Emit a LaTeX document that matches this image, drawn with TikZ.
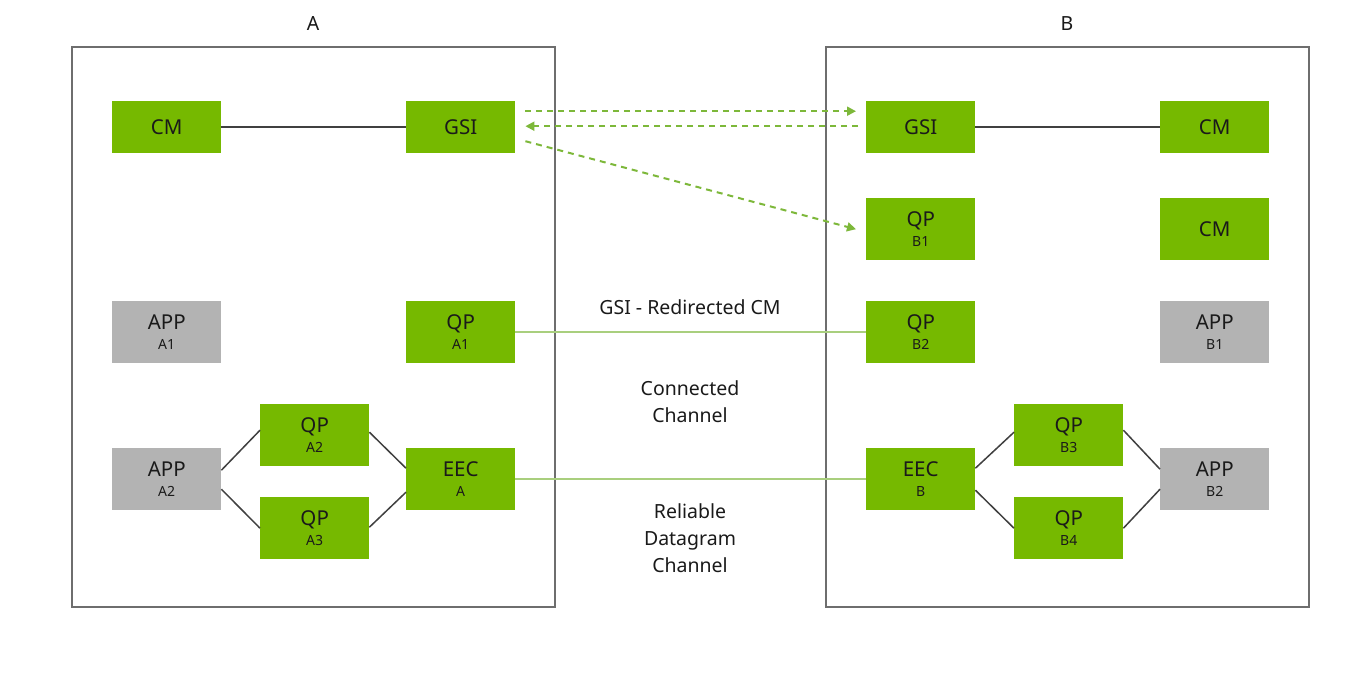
\documentclass[tikz,border=0pt]{standalone}
\usepackage{fontspec}
\setmainfont{Noto Sans}
\usetikzlibrary{arrows.meta}
\definecolor{nvgreen}{HTML}{76B900}
\definecolor{boxgray}{HTML}{B3B3B3}
\definecolor{framegray}{HTML}{6E6E6E}
\definecolor{linegreen}{HTML}{A9CF7E}
\definecolor{dashgreen}{HTML}{7DB83A}
\definecolor{txt}{HTML}{1A1A1A}
\newcommand{\mfs}{\fontsize{20.5}{22}\selectfont}
\newcommand{\sfs}{\fontsize{14}{15}\selectfont}
\newcommand{\lfs}{\fontsize{19.5}{27}\selectfont}
\tikzset{
  gbox/.style={fill=nvgreen, draw=none, minimum width=109pt, inner sep=0pt, text=txt, align=center, anchor=north west, font=\mfs},
  abox/.style={gbox, fill=boxgray},
  one/.style={minimum height=52pt},
  two/.style={minimum height=62pt},
  frame/.style={draw=framegray, line width=1.4pt},
  blk/.style={draw=black!75, line width=1.5pt},
  grn/.style={draw=linegreen, line width=1.8pt},
  dsh/.style={draw=dashgreen, line width=2pt, dash pattern=on 6pt off 5pt, -{Triangle[length=9pt,width=9pt]}},
  lbl/.style={font=\lfs, text=txt, align=center}
}
\newcommand{\tw}[2]{#1\\[-2pt]{\sfs #2}}
\begin{document}
\begin{tikzpicture}[x=1pt,y=-1pt]
\useasboundingbox[fill=white] (0,0) rectangle (1370,694);
% frames
\draw[frame] (72,47) rectangle (555,607);
\draw[frame] (826,47) rectangle (1309,607);
\node[lbl] (tA) at (313,24) {A};
\node[lbl] (tB) at (1067,24) {B};
% A side
\node[gbox,one] (cmA) at (112,101) {CM};
\node[gbox,one] (gsiA) at (406,101) {GSI};
\node[abox,two] (appA1) at (112,301) {\tw{APP}{A1}};
\node[gbox,two] (qpA1) at (406,301) {\tw{QP}{A1}};
\node[gbox,two] (qpA2) at (260,404) {\tw{QP}{A2}};
\node[abox,two] (appA2) at (112,448) {\tw{APP}{A2}};
\node[gbox,two] (eecA) at (406,448) {\tw{EEC}{A}};
\node[gbox,two] (qpA3) at (260,497) {\tw{QP}{A3}};
% B side
\node[gbox,one] (gsiB) at (866,101) {GSI};
\node[gbox,one] (cmB) at (1160,101) {CM};
\node[gbox,two] (qpB1) at (866,198) {\tw{QP}{B1}};
\node[gbox,two] (cmB2) at (1160,198) {CM};
\node[gbox,two] (qpB2) at (866,301) {\tw{QP}{B2}};
\node[abox,two] (appB1) at (1160,301) {\tw{APP}{B1}};
\node[gbox,two] (qpB3) at (1014,404) {\tw{QP}{B3}};
\node[gbox,two] (eecB) at (866,448) {\tw{EEC}{B}};
\node[abox,two] (appB2) at (1160,448) {\tw{APP}{B2}};
\node[gbox,two] (qpB4) at (1014,497) {\tw{QP}{B4}};
% black connectors
\draw[blk] (cmA.east) -- (gsiA.west);
\draw[blk] (gsiB.east) -- (cmB.west);
\draw[blk] ([yshift=9pt]appA2.east) -- ([yshift=5pt]qpA2.west);
\draw[blk] ([yshift=-10pt]appA2.east) -- ([yshift=0pt]qpA3.west);
\draw[blk] ([yshift=3pt]qpA2.east) -- ([yshift=11pt]eecA.west);
\draw[blk] ([yshift=1pt]qpA3.east) -- ([yshift=-13pt]eecA.west);
\draw[blk] ([yshift=11pt]eecB.east) -- ([yshift=3pt]qpB3.west);
\draw[blk] ([yshift=-11pt]eecB.east) -- ([yshift=0pt]qpB4.west);
\draw[blk] ([yshift=5pt]qpB3.east) -- ([yshift=10pt]appB2.west);
\draw[blk] ([yshift=0pt]qpB4.east) -- ([yshift=-10pt]appB2.west);
% green channels
\draw[grn] (qpA1.east) -- (qpB2.west);
\draw[grn] (eecA.east) -- (eecB.west);
% dashed arrows
\draw[dsh] ([xshift=10pt,yshift=16pt]gsiA.east) -- ([xshift=-10pt,yshift=16pt]gsiB.west);
\draw[dsh] ([xshift=-8pt,yshift=1pt]gsiB.west) -- ([xshift=10pt,yshift=1pt]gsiA.east);
\draw[dsh] ([xshift=10pt,yshift=-14pt]gsiA.east) -- ([xshift=-10pt,yshift=0pt]qpB1.west);
% labels
\node[lbl] (l1) at (690,307) {GSI - Redirected CM};
\node[lbl] (l2) at (690,402) {Connected\\Channel};
\node[lbl] (l3) at (690,538) {Reliable\\Datagram\\Channel};
\end{tikzpicture}
\end{document}
